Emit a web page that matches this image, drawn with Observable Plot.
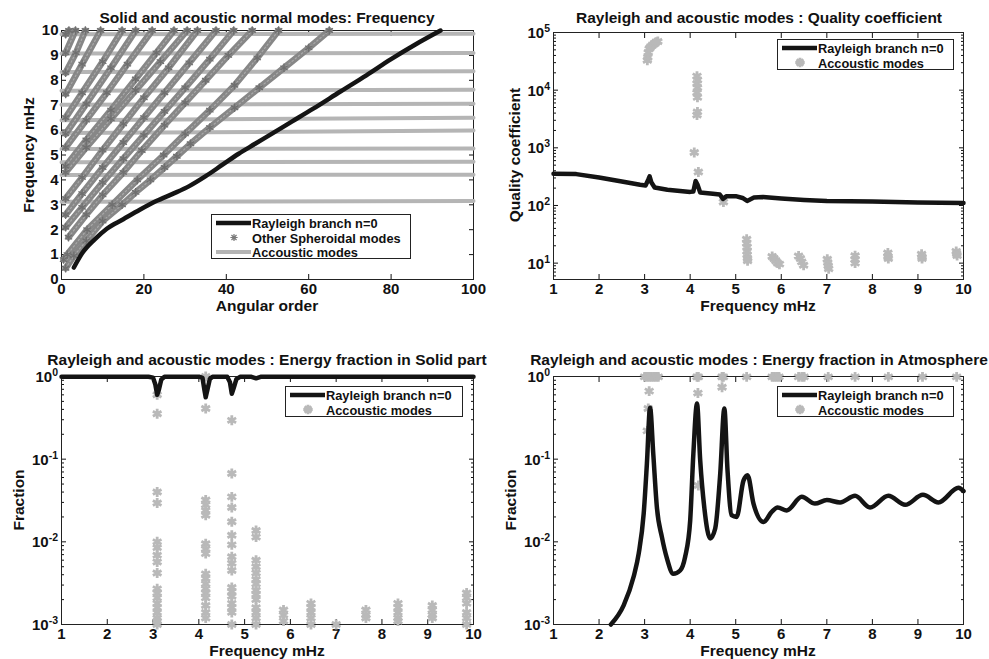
<!DOCTYPE html>
<html><head><meta charset="utf-8">
<script src="https://cdn.jsdelivr.net/npm/d3@7"></script>
<script src="https://cdn.jsdelivr.net/npm/@observablehq/plot@0.6"></script>
<style>
body{margin:0;background:#fff;}
#root{position:relative;width:989px;height:659px;overflow:hidden;background:#fff;font-family:"Liberation Sans",Arial,sans-serif;font-weight:bold;color:#111;}
.t{position:absolute;transform:translate(-50%,-50%);font-size:15.5px;white-space:nowrap;line-height:12px;height:12px;}
.yl{position:absolute;transform:translate(-50%,-50%) rotate(-90deg);font-size:15.5px;white-space:nowrap;line-height:12px;}
.lg{position:absolute;border:1px solid #222;background:#fff;box-sizing:border-box;}
.lg .row{position:absolute;font-size:12.8px;white-space:nowrap;line-height:11px;height:11px;transform:translateY(-50%);}
.lg svg{position:absolute;left:0;top:0;overflow:visible;}
.pw{position:absolute;transform:translateY(-50%);font-size:15px;line-height:11px;height:11px;white-space:nowrap;}
.pw span{position:relative;top:-6px;font-size:10.5px;line-height:8px;}
</style></head>
<body><div id="root"></div>
<script>
// ---------- Panel 1: frequency vs angular order ----------
const rayleighL = [3,5,8,11,15,19,23,27,31,35,39,43,47,51,56,61,67.7,74,80,86,92];
const rayleighF = [0.48,1.05,1.6,2.04,2.42,2.8,3.15,3.44,3.75,4.15,4.6,5.05,5.45,5.85,6.35,6.85,7.55,8.2,8.85,9.45,10];
const acousticLines = [[3.12,3.15],[4.2,4.21],[4.71,4.73],[5.24,5.26],[5.88,5.98],[6.4,6.5],[7.02,7.06],[7.58,7.62],[8.33,8.36],[9.08,9.1],[9.85,9.87]]; // f at l=0, l=100
const acousticL = [0,100];
const spheroidalBranches = [
  [[1,0.45],[3,0.95],[6,1.55],[10,2.35],[14.7,3.0],[18,3.5],[21.6,4.0],[25,4.5],[28,4.95],[31.3,5.45],[36,6.1],[42,6.9],[48,7.7],[54,8.5],[60,9.3],[65,10]],
  [[0.5,0.8],[1.4,1.0],[6.2,2.0],[12.3,3.0],[18.4,4.0],[24.8,5.0],[30,5.85],[36,6.8],[42,7.8],[47.5,8.9],[52.7,10]],
  [[1.7,1.7],[6,2.6],[10,3.4],[15,4.3],[19.5,5.18],[25,6.2],[30,7.1],[35,8.0],[40.5,9.0],[46.3,10]],
  [[1,2.1],[5,2.9],[10,3.9],[15,4.85],[20,5.8],[25,6.75],[30,7.7],[36,8.85],[41.8,10]],
  [[1,2.6],[5,3.45],[10,4.5],[15,5.5],[20,6.5],[25,7.5],[31,8.7],[37.5,10]],
  [[1,3.25],[5,4.1],[10,5.2],[15,6.25],[20,7.3],[26,8.5],[33,10]],
  [[1,4.3],[6,5.3],[12,6.45],[18,7.6],[24,8.75],[30.5,10]],
  [[1,4.55],[6,5.6],[12,6.8],[18,8.05],[23,9.1],[27.3,10]],
  [[1,5.3],[6,6.4],[11,7.5],[16,8.65],[22,10]],
  [[1,5.85],[6,7.05],[12,8.5],[18,10]],
  [[1,6.5],[5,7.5],[10,8.75],[14.7,10]],
  [[1,7.45],[5,8.65],[9.5,10]],
  [[1,8.3],[3.5,9.1],[5.8,10]],
  [[1,9.1],[3.4,10]],
  [[1,9.85],[1.8,10]]
];
const p1XTicks = [0,20,40,60,80,100];
const p1YTicks = [0,1,2,3,4,5,6,7,8,9,10];

// ---------- Panel 2: quality coefficient ----------
const qFreq = [1,1.5,2,2.5,2.9,3.02,3.08,3.11,3.15,3.22,3.5,4.0,4.07,4.12,4.16,4.22,4.5,4.65,4.72,4.8,5.0,5.15,5.25,5.4,5.6,6,6.5,7,8,9,10];
const qRayleigh = [355,350,305,260,228,222,280,320,250,205,188,172,175,265,230,168,160,155,130,145,145,135,120,137,140,132,125,120,117,113,110];
const qAcFreq = [3.06,3.07,3.08,3.1,3.13,3.17,3.21,3.25,3.29, 4.15,4.16,4.15,4.16,4.15,4.16,4.16,4.15,4.09,4.18, 4.73, 5.24,5.24,5.25,5.25,5.25,5.26,5.26, 5.8,5.84,5.88,5.92,5.96, 6.38,6.42,6.45,6.49, 7.01,7.02,7.03,7.04, 7.62,7.62,7.62, 8.34,8.34,8.35, 9.08,9.09,9.09, 9.84,9.85,9.86];
const qAcoustic = [33000,37000,45000,52000,56000,60000,64000,68000,70000, 17500,15000,13000,11000,9000,7500,4200,3700,830,380, 115, 26,22,19,16,14,12,11, 13,12,11,10,9.6, 13.3,12,10.5,9.2, 11.7,10.2,9,8, 13.4,11.5,10, 15,13,12, 14.3,12.8,12, 16,14.6,13.5];
const p2XTicks = [1,2,3,4,5,6,7,8,9,10];
const p2YTicks = [10,100,1000,10000,100000];

// ---------- Panel 3: energy fraction in solid ----------
const solFreq = [1,2.9,3.0,3.05,3.09,3.13,3.18,3.25,4.0,4.08,4.12,4.15,4.19,4.24,4.3,4.62,4.68,4.72,4.76,4.82,4.9,5.15,5.25,5.35,6,10];
const solRayleigh = [0.995,0.995,0.97,0.8,0.6,0.7,0.92,0.99,0.995,0.96,0.7,0.56,0.7,0.93,0.99,0.99,0.85,0.62,0.72,0.93,0.99,0.99,0.95,0.99,0.995,0.995];
const solAcColumns = [
  [3.09,[0.6,0.354,0.04,0.0295,0.01,0.0085,0.0069,0.0057,0.0042,0.0027,0.0024,0.0021,0.0018,0.0016,0.0014,0.0012,0.0011,0.001]],
  [4.15,[1.0,0.41,0.032,0.028,0.024,0.021,0.0095,0.0082,0.0072,0.0041,0.0036,0.0031,0.0027,0.0024,0.0021,0.0017,0.0014,0.0012]],
  [4.72,[0.295,0.067,0.035,0.026,0.0175,0.012,0.0092,0.0066,0.0055,0.0045,0.0028,0.0025,0.0022,0.0018,0.0016,0.0014,0.001]],
  [5.25,[0.0137,0.0114,0.006,0.005,0.0042,0.0035,0.0031,0.0026,0.0023,0.002,0.0016,0.0014,0.0012,0.001]],
  [5.85,[0.0015,0.0013,0.0011]],
  [6.45,[0.0018,0.0016,0.0014,0.0012,0.001]],
  [7.0,[0.001]],
  [7.65,[0.0015,0.0013,0.0012]],
  [8.35,[0.0018,0.0016,0.0014,0.0012,0.0011]],
  [9.1,[0.0017,0.0015,0.0013,0.0012]],
  [9.85,[0.0024,0.0021,0.0018,0.0014,0.0012,0.001]]
];

// ---------- Panel 4: energy fraction in atmosphere ----------
const atmFreq = [2.26,2.54,2.76,2.87,2.98,3.05,3.12,3.19,3.27,3.38,3.49,3.63,3.78,3.89,4.0,4.07,4.15,4.22,4.31,4.44,4.55,4.66,4.75,4.82,4.91,5.02,5.17,5.26,5.39,5.61,5.79,5.92,6.12,6.45,6.74,7.0,7.29,7.62,7.95,8.35,8.72,9.11,9.45,9.89,10];
const atmRayleigh = [0.001,0.0017,0.0038,0.0072,0.022,0.088,0.42,0.116,0.026,0.0114,0.0063,0.0041,0.0045,0.0066,0.018,0.116,0.47,0.097,0.026,0.011,0.0145,0.067,0.41,0.073,0.021,0.020,0.055,0.064,0.029,0.0174,0.023,0.026,0.024,0.035,0.029,0.032,0.030,0.036,0.026,0.036,0.028,0.037,0.030,0.045,0.041];
const atmAcFreq = [3.0,3.05,3.1,3.15,3.2,3.25,3.3, 4.15,4.18, 4.7,4.73, 5.24, 5.8,5.85,5.9,5.95, 6.38,6.45,6.5, 7.03, 7.62, 8.35, 9.1, 9.85, 3.1,3.08,3.06, 4.17,4.18, 4.7];
const atmAcoustic = [0.99,0.99,0.99,0.99,0.99,0.99,0.99, 0.99,0.99, 0.99,0.99, 0.99, 0.99,0.99,0.99,0.99, 0.99,0.99,0.99, 0.99, 0.99, 0.99, 0.99, 0.99, 0.665,0.41,0.22, 0.63,0.048, 0.74];
const fracTicks = [0.001,0.01,0.1,1];

// ---------- helpers ----------
const root = document.getElementById("root");
const none = () => "";
function minorLog(lo, hi) {
  const out = [];
  for (let e = lo; e < hi; e++) for (let k = 2; k <= 9; k++) out.push(k * Math.pow(10, e));
  return out;
}
function boxAxes(xTicks, yTicks, yLabels, yMinor) {
  const m = [
    Plot.axisX(xTicks, {anchor: "bottom", tickSize: 0, tickPadding: 4, label: null}),
    Plot.axisX(xTicks, {anchor: "bottom", tickSize: -5, tickFormat: none, label: null}),
    Plot.axisX(xTicks, {anchor: "top", tickSize: -5, tickFormat: none, label: null}),
    Plot.axisY(yTicks, {anchor: "left", tickSize: -5, tickFormat: none, label: null}),
    Plot.axisY(yTicks, {anchor: "right", tickSize: -5, tickFormat: none, label: null})
  ];
  if (yLabels) m.push(Plot.axisY(yTicks, {anchor: "left", tickSize: 0, tickPadding: 3, label: null}));
  if (yMinor) {
    m.push(Plot.axisY(yMinor, {anchor: "left", tickSize: -3, tickFormat: none, label: null}));
    m.push(Plot.axisY(yMinor, {anchor: "right", tickSize: -3, tickFormat: none, label: null}));
  }
  m.push(Plot.frame({stroke: "#222", strokeWidth: 1}));
  return m;
}
function panel(svgLeft, svgTop, W, H, fr, x, y, marks) {
  const p = Plot.plot({
    width: W, height: H,
    marginLeft: fr.l - svgLeft, marginRight: svgLeft + W - fr.r,
    marginTop: fr.t - svgTop, marginBottom: svgTop + H - fr.b,
    x, y,
    style: {fontFamily: '"Liberation Sans", Arial, sans-serif', fontWeight: "bold", fontSize: "15px", color: "#111", background: "transparent", overflow: "visible"},
    marks
  });
  p.style.position = "absolute";
  p.style.left = svgLeft + "px";
  p.style.top = svgTop + "px";
  root.appendChild(p);
  return p;
}
// power-of-ten tick labels placed with the plot's own y scale
function powLabels(p, svgTop, frameLeft, ticks) {
  const s = p.scale("y");
  ticks.forEach(v => {
    const e = Math.round(Math.log10(v));
    const d = document.createElement("div");
    d.className = "pw";
    d.innerHTML = `10<span>${e < 0 ? "-" + (-e) : e}</span>`;
    d.style.right = (989 - frameLeft + 3) + "px";
    d.style.top = (svgTop + s.apply(v)) + "px";
    root.appendChild(d);
  });
}
function label(cls, text, cx, cy) {
  const d = document.createElement("div");
  d.className = cls; d.textContent = text;
  d.style.left = cx + "px"; d.style.top = cy + "px";
  root.appendChild(d);
}
function asteriskPath(cx, cy, r) {
  let s = "";
  for (let a = 0; a < 4; a++) {
    const t = a * Math.PI / 4;
    s += `M${cx - r*Math.cos(t)},${cy - r*Math.sin(t)}L${cx + r*Math.cos(t)},${cy + r*Math.sin(t)}`;
  }
  return s;
}
function legend(x0, y0, w, h, rows) {
  const d = document.createElement("div");
  d.className = "lg";
  Object.assign(d.style, {left: x0 + "px", top: y0 + "px", width: w + "px", height: h + "px"});
  let svg = `<svg width="${w}" height="${h}">`;
  rows.forEach(r => {
    if (r.type === "line") svg += `<line x1="4" x2="39" y1="${r.y}" y2="${r.y}" stroke="${r.color}" stroke-width="${r.w}"/>`;
    else svg += `<path d="${asteriskPath(22, r.y, r.r)}" stroke="${r.color}" stroke-width="${r.w}" fill="none"/>`;
  });
  svg += "</svg>";
  d.innerHTML = svg;
  rows.forEach(r => {
    const t = document.createElement("div");
    t.className = "row"; t.textContent = r.text;
    t.style.left = "40px"; t.style.top = r.y + "px";
    d.appendChild(t);
  });
  root.appendChild(d);
}

// ---------- build tables ----------
const rayRows = rayleighL.map((l, i) => ({l, f: rayleighF[i]}));
const acRows = [];
acousticLines.forEach((fs, b) => acousticL.forEach((l, j) => acRows.push({b, l, f: fs[j]})));
const sphRows = [];
spheroidalBranches.forEach((br, b) => br.forEach(([l, f]) => sphRows.push({b, l, f})));

const GRAY_AC = "#b5b5b5";
const BLACK = "#141414";

// Panel 1
panel(0, 0, 494, 318, {l: 61, r: 473, t: 30, b: 279},
  {domain: [0, 100]}, {domain: [0, 10]},
  [
    ...boxAxes(p1XTicks, p1YTicks, true, null),
    Plot.line(acRows, {x: "l", y: "f", z: "b", stroke: GRAY_AC, strokeWidth: 4}),
    Plot.line(sphRows, {x: "l", y: "f", z: "b", stroke: "#878787", strokeWidth: 6.5}),
    Plot.line(sphRows, {x: "l", y: "f", z: "b", stroke: "#a9a9a9", strokeWidth: 1.2, strokeDasharray: "1.5,2.5"}),
    Plot.dot(sphRows, {x: "l", y: "f", symbol: "asterisk", r: 4, stroke: "#6f6f6f", strokeWidth: 1.3}),
    Plot.line(rayRows, {x: "l", y: "f", stroke: BLACK, strokeWidth: 4.5, curve: "monotone-x"})
  ]);

// Panel 2
const qRows = qFreq.map((f, i) => ({f, q: qRayleigh[i]}));
const qAcRows = qAcFreq.map((f, i) => ({f, q: qAcoustic[i]}));
const p2 = panel(494, 0, 495, 318, {l: 553, r: 963, t: 32, b: 279},
  {domain: [1, 10]}, {type: "log", domain: [5.2, 100000]},
  [
    ...boxAxes(p2XTicks, p2YTicks, false, minorLog(0, 5).filter(v => v > 5.2)),
    Plot.dot(qAcRows, {x: "f", y: "q", symbol: "asterisk", r: 4.7, stroke: "#b9b9b9", strokeWidth: 2.8}),
    Plot.line(qRows, {x: "f", y: "q", stroke: BLACK, strokeWidth: 4.5})
  ]);
powLabels(p2, 0, 553, p2YTicks);

// Panel 3
const solRows = solFreq.map((f, i) => ({f, v: solRayleigh[i]}));
const solAcRows = [];
solAcColumns.forEach(([f, vals]) => vals.forEach(v => solAcRows.push({f, v})));
const p3 = panel(0, 330, 494, 320, {l: 61, r: 473, t: 376, b: 624},
  {domain: [1, 10]}, {type: "log", domain: [0.001, 1]},
  [
    ...boxAxes(p2XTicks, fracTicks, false, minorLog(-3, 0)),
    Plot.dot(solAcRows, {x: "f", y: "v", symbol: "asterisk", r: 4.7, stroke: "#b9b9b9", strokeWidth: 2.8}),
    Plot.line(solRows, {x: "f", y: "v", stroke: BLACK, strokeWidth: 4.5})
  ]);
powLabels(p3, 330, 61, fracTicks);

// Panel 4
const atmRows = atmFreq.map((f, i) => ({f, v: atmRayleigh[i]}));
const atmAcRows = atmAcFreq.map((f, i) => ({f, v: atmAcoustic[i]}));
const p4 = panel(494, 330, 495, 320, {l: 553, r: 963, t: 376, b: 624},
  {domain: [1, 10]}, {type: "log", domain: [0.001, 1]},
  [
    ...boxAxes(p2XTicks, fracTicks, false, minorLog(-3, 0)),
    Plot.dot(atmAcRows, {x: "f", y: "v", symbol: "asterisk", r: 4.7, stroke: "#b9b9b9", strokeWidth: 2.8}),
    Plot.line(atmRows, {x: "f", y: "v", stroke: BLACK, strokeWidth: 4.5, curve: "monotone-x"})
  ]);
powLabels(p4, 330, 553, fracTicks);

// ---------- text ----------
label("t", "Solid and acoustic normal modes: Frequency", 267, 18);
label("t", "Rayleigh and acoustic modes : Quality coefficient", 759, 18);
label("t", "Rayleigh and acoustic modes : Energy fraction in Solid part", 267, 360);
label("t", "Rayleigh and acoustic modes : Energy fraction in Atmosphere", 759, 360);
label("t", "Angular order", 267, 306);
label("t", "Frequency mHz", 758, 306);
label("t", "Frequency mHz", 267, 651);
label("t", "Frequency mHz", 758, 651);
label("yl", "Frequency mHz", 29, 154.5);
label("yl", "Quality coefficient", 515, 155);
label("yl", "Fraction", 18.5, 500);
label("yl", "Fraction", 511, 500);

// ---------- legends ----------
legend(211, 214, 200, 45, [
  {type: "line", y: 8, color: BLACK, w: 4.5, text: "Rayleigh branch n=0"},
  {type: "star", y: 22.5, color: "#7a7a7a", w: 1.2, r: 3.6, text: "Other Spheroidal modes"},
  {type: "line", y: 37, color: GRAY_AC, w: 4, text: "Accoustic modes"}
]);
const twoRow = [
  {type: "line", y: 8, color: BLACK, w: 4.5, text: "Rayleigh branch n=0"},
  {type: "star", y: 22.5, color: "#b9b9b9", w: 2.8, r: 4.7, text: "Accoustic modes"}
];
legend(777, 39, 177, 31, twoRow);
legend(285, 386, 178, 31, twoRow);
legend(777, 386, 177, 31, twoRow);
</script></body></html>
